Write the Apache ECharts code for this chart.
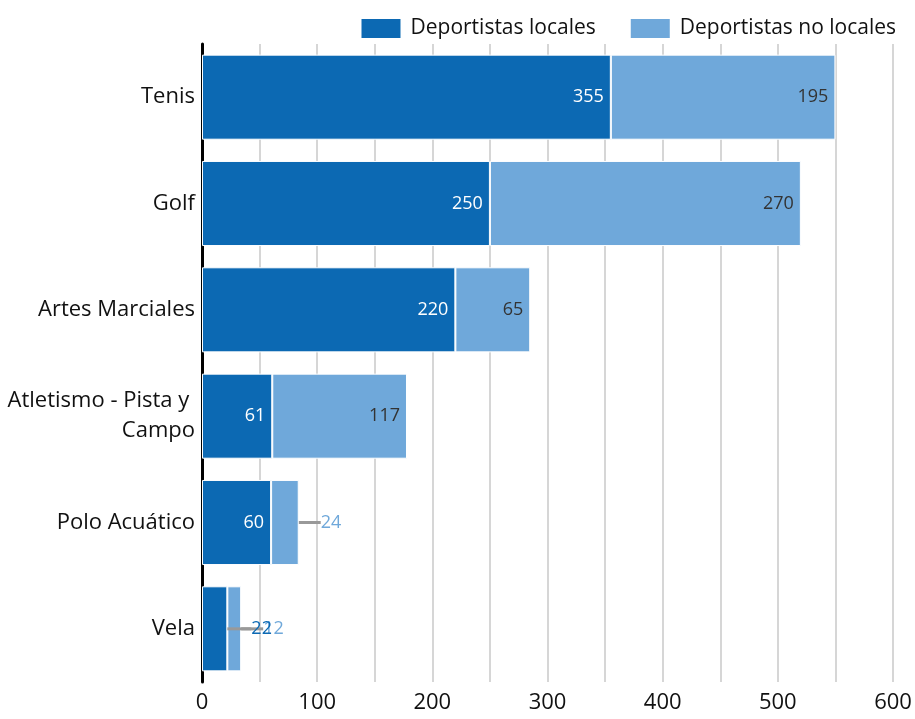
<!DOCTYPE html>
<html>
<head>
<meta charset="utf-8">
<script src="https://cdn.jsdelivr.net/npm/echarts@6/dist/echarts.min.js"></script>
<style>
html, body { margin:0; padding:0; background:#fff; }
#main { width:915px; height:719px; }
</style>
</head>
<body>
<div id="main"></div>
<script>
var categories = ['Tenis', 'Golf', 'Artes Marciales', 'Atletismo - Pista y Campo', 'Polo Acuático', 'Vela'];
var locales = [355, 250, 220, 61, 60, 22];
var noLocales = [195, 270, 65, 117, 24, 12];
var xTicks = [0, 100, 200, 300, 400, 500, 600];

var DARK = '#0c69b3';
var LIGHT = '#6fa8da';
var FONT = '"Open Sans", "Noto Sans", sans-serif';

// small bars get their label outside with a guide line
function buildData(values, color, minInside) {
	return values.map(function(v) {
		if (v >= minInside) return v;
		return {
			value: v,
			label: { position: 'right', distance: 0, color: color },
			labelLine: { show: true, lineStyle: { color: '#999', width: 3 } }
		};
	});
}

var myChart = echarts.init(document.getElementById('main'));
var option = {
	animation: false,
	textStyle: { fontFamily: FONT },
	legend: {
		right: 14,
		top: 12,
		itemWidth: 41,
		itemHeight: 21,
		itemGap: 33,
		icon: 'rect',
		textStyle: { fontSize: 21, color: '#111', fontFamily: FONT, padding: [0, 0, 0, 4] },
		data: ['Deportistas locales', 'Deportistas no locales']
	},
	grid: { left: 202, right: 22, top: 44, bottom: 37, containLabel: false },
	xAxis: {
		type: 'value',
		min: 0,
		max: 600,
		interval: 50,
		axisLine: { show: false },
		axisTick: { show: false },
		splitLine: { show: true, lineStyle: { color: '#d6d6d6', width: 2 } },
		axisLabel: {
			fontSize: 22,
			color: '#111',
			margin: 10,
			formatter: function(v) { return xTicks.indexOf(v) >= 0 ? String(v) : ''; }
		}
	},
	yAxis: {
		type: 'category',
		inverse: true,
		data: categories,
		axisLine: { show: true, lineStyle: { color: '#000', width: 3 } },
		axisTick: { show: false },
		axisLabel: {
			fontSize: 22,
			color: '#111',
			margin: 7,
			width: 192,
			overflow: 'break',
			lineHeight: 30,
			align: 'right'
		}
	},
	series: [
		{
			name: 'Deportistas locales',
			type: 'bar',
			stack: 'total',
			z: 3,
			barCategoryGap: '20%',
			itemStyle: { color: DARK, borderColor: '#fff', borderWidth: 1 },
			label: { show: true, position: 'insideRight', distance: 7, color: '#fff', fontSize: 18 },
			labelLayout: function(p) {
				return locales[p.dataIndex] < 40 ? { dx: 24 } : {};
			},
			data: buildData(locales, DARK, 40)
		},
		{
			name: 'Deportistas no locales',
			type: 'bar',
			stack: 'total',
			barCategoryGap: '20%',
			itemStyle: { color: LIGHT, borderColor: '#fff', borderWidth: 1 },
			label: { show: true, position: 'insideRight', distance: 7, color: '#333', fontSize: 18 },
			labelLayout: function(p) {
				return noLocales[p.dataIndex] < 40 ? { dx: 22 } : {};
			},
			data: buildData(noLocales, LIGHT, 40)
		}
	]
};
myChart.setOption(option);
</script>
</body>
</html>
